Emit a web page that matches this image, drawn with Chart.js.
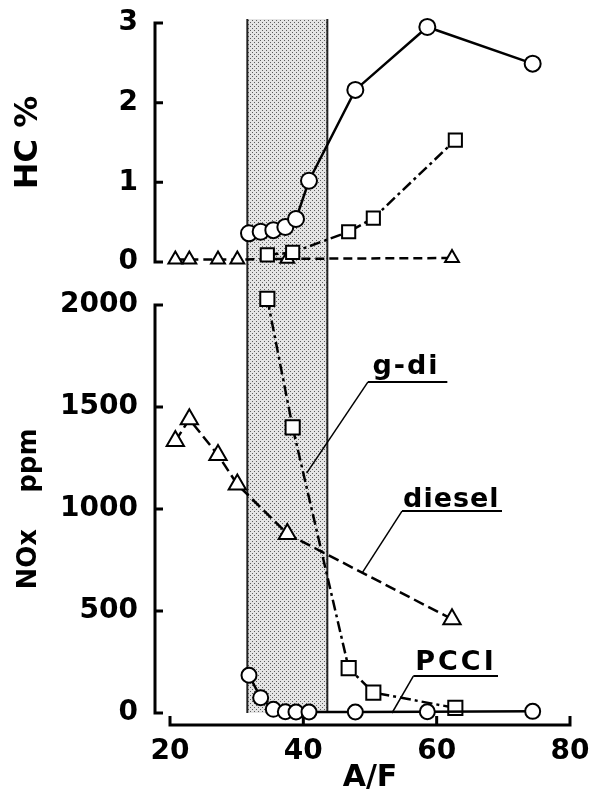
<!DOCTYPE html>
<html><head><meta charset="utf-8">
<script src="https://cdn.jsdelivr.net/npm/chart.js@4.4.0/dist/chart.umd.min.js"></script>
<style>
html,body{margin:0;padding:0;background:#fff;}
#wrap{position:relative;width:594px;height:796px;overflow:hidden;}
canvas{position:absolute;left:0;}
#top{top:0;} #bot{top:285px;}
</style></head><body>
<div id="wrap"><canvas id="top" width="594" height="285"></canvas><canvas id="bot" width="594" height="511"></canvas></div>
<script>
// ---- data ----
const afTicks = [20, 40, 60, 80];
const hcTicks = [0, 1, 2, 3];
const noxTicks = [0, 500, 1000, 1500, 2000];

const pcciAF  = [31.85, 33.6, 35.5, 37.3, 38.9, 40.85, 47.8, 58.6, 74.4];
const pcciHC  = [0.36, 0.38, 0.40, 0.44, 0.54, 1.02, 2.16, 2.95, 2.49];
const pcciNOx = [185, 75, 18, 6, 5, 5, 5, 6, 8];

const gdiAF  = [34.6, 38.4, 46.8, 50.5, 62.8];
const gdiHC  = [0.09, 0.12, 0.38, 0.55, 1.53];
const gdiNOx = [2030, 1400, 220, 100, 25];

const dieselAF  = [20.8, 22.9, 27.2, 30.1, 37.6, 62.3];
const dieselHC  = [0.03, 0.03, 0.03, 0.03, 0.04, 0.05];
const dieselNOx = [1333, 1440, 1265, 1120, 878, 460];

const bandAF = [31.6, 43.6];

const notes = [
  {text: 'g-di',   x: 55.4, y: 1662, under: [49.7, 61.6, 1623], leader: [49.7, 1623, 40.5, 1176]},
  {text: 'diesel', x: 62.2, y: 1010, under: [54.8, 69.8, 990],  leader: [54.8, 990, 48.9, 691]},
  {text: 'PCCI',   x: 62.9, y: 211,  under: [56.5, 69.2, 181],  leader: [56.5, 181, 53.3, 0]}
];

// ---- helpers ----
const FF = "'DejaVu Sans'";
Chart.defaults.font.family = FF;
Chart.defaults.color = '#000';
const pts = (xs, ys) => xs.map((x, i) => ({x, y: ys[i]}));

const patCanvas = (() => {
  const c = document.createElement('canvas'); c.width = 4; c.height = 4;
  const g = c.getContext('2d');
  g.fillStyle = '#e4e4e4'; g.fillRect(0, 0, 4, 4);
  g.fillStyle = '#5c5c5c'; g.fillRect(0, 0, 1, 1); g.fillRect(2, 2, 1, 1);
  return c;
})();

function bandPlugin(topFn, botFn) {
  return {
    id: 'band',
    beforeDatasetsDraw(chart) {
      const {ctx} = chart, xs = chart.scales.x;
      const x0 = xs.getPixelForValue(bandAF[0]), x1 = xs.getPixelForValue(bandAF[1]);
      const y0 = topFn(chart), y1 = botFn(chart);
      ctx.save();
      ctx.fillStyle = ctx.createPattern(patCanvas, 'repeat');
      ctx.fillRect(x0, y0, x1 - x0, y1 - y0);
      ctx.strokeStyle = '#222'; ctx.lineWidth = 2;
      ctx.beginPath();
      ctx.moveTo(x0, y0); ctx.lineTo(x0, y1);
      ctx.moveTo(x1, y0); ctx.lineTo(x1, y1);
      ctx.stroke();
      ctx.restore();
    }
  };
}

function axesPlugin(yTicks, withX) {
  return {
    id: 'axes',
    beforeDatasetsDraw(chart) {
      const {ctx} = chart, xs = chart.scales.x, ys = chart.scales.y;
      const ax = xs.getPixelForValue(afTicks[0]) - 15;
      const yTop = ys.getPixelForValue(yTicks[yTicks.length - 1]);
      const yBot = ys.getPixelForValue(yTicks[0]);
      ctx.save();
      ctx.strokeStyle = '#000'; ctx.lineWidth = 3; ctx.lineCap = 'butt';
      ctx.beginPath();
      ctx.moveTo(ax, yTop - 1.5); ctx.lineTo(ax, yBot + 1.5);
      yTicks.forEach(v => { const p = ys.getPixelForValue(v); ctx.moveTo(ax, p); ctx.lineTo(ax + 8, p); });
      ctx.stroke();
      if (withX) {
        const ay = yBot + 12;
        const xl = xs.getPixelForValue(afTicks[0]), xr = xs.getPixelForValue(afTicks[afTicks.length - 1]);
        ctx.beginPath();
        ctx.moveTo(xl - 1.5, ay); ctx.lineTo(xr + 1.5, ay);
        afTicks.forEach(v => { const p = xs.getPixelForValue(v); ctx.moveTo(p, ay); ctx.lineTo(p, ay - 9); });
        ctx.stroke();
      }
      ctx.restore();
    }
  };
}

const notesPlugin = {
  id: 'notes',
  afterDatasetsDraw(chart) {
    const {ctx} = chart, xs = chart.scales.x, ys = chart.scales.y;
    ctx.save();
    ctx.strokeStyle = '#000';
    notes.forEach(n => {
      ctx.lineWidth = 1.5;
      ctx.beginPath();
      ctx.moveTo(xs.getPixelForValue(n.leader[0]), ys.getPixelForValue(n.leader[1]));
      ctx.lineTo(xs.getPixelForValue(n.leader[2]), ys.getPixelForValue(n.leader[3]));
      ctx.stroke();
      ctx.lineWidth = 2;
      ctx.beginPath();
      ctx.moveTo(xs.getPixelForValue(n.under[0]), ys.getPixelForValue(n.under[2]));
      ctx.lineTo(xs.getPixelForValue(n.under[1]), ys.getPixelForValue(n.under[2]));
      ctx.stroke();
      ctx.fillStyle = '#000';
      ctx.font = 'bold 27px ' + FF;
      ctx.textAlign = 'center'; ctx.textBaseline = 'alphabetic';
      try { ctx.letterSpacing = n.text === 'diesel' ? '1px' : (n.text === 'PCCI' ? '3px' : '2px'); } catch (e) {}
      ctx.fillText(n.text, xs.getPixelForValue(n.x), ys.getPixelForValue(n.y));
    });
    ctx.restore();
  }
};

function lineSets(big, hc) {
  return [
    {label: 'PCCI', data: hc ? pts(pcciAF, pcciHC) : pts(pcciAF, pcciNOx), showLine: true,
     borderColor: '#000', borderWidth: 2.5, pointStyle: 'circle', pointRadius: big ? 7.5 : 8,
     pointBackgroundColor: '#fff', pointBorderColor: '#000', pointBorderWidth: 2, clip: false},
    {label: 'g-di', data: hc ? pts(gdiAF, gdiHC) : pts(gdiAF, gdiNOx), showLine: true,
     borderColor: '#000', borderWidth: 2.5, borderDash: [11, 4, 3, 4], pointStyle: 'rect', pointRadius: big ? 10 : 9.3,
     pointBackgroundColor: '#fff', pointBorderColor: '#000', pointBorderWidth: 2, clip: false},
    {label: 'diesel', data: hc ? pts(dieselAF, dieselHC) : pts(dieselAF, dieselNOx), showLine: true,
     borderColor: '#000', borderWidth: 2.5, borderDash: big ? [11, 5] : [9, 5], pointStyle: 'triangle', pointRadius: big ? 10 : 8,
     pointBackgroundColor: '#fff', pointBorderColor: '#000', pointBorderWidth: 2, clip: false}
  ];
}

const tickFont = {family: FF, size: 28, weight: 'bold'};
function fitY(s) { s.width = 170; s.paddingTop = 0; s.paddingBottom = 0; }

new Chart(document.getElementById('top'), {
  type: 'scatter',
  data: {datasets: lineSets(false, true)},
  options: {
    responsive: false, animation: false, events: [],
    layout: {padding: {top: 23, bottom: 23, left: 0, right: 24}},
    plugins: {legend: {display: false}, tooltip: {enabled: false}},
    scales: {
      x: {type: 'linear', min: afTicks[0], max: afTicks[afTicks.length - 1], display: false},
      y: {
        min: hcTicks[0], max: hcTicks[hcTicks.length - 1],
        afterFit: fitY,
        afterBuildTicks(s) { s.ticks = hcTicks.map(v => ({value: v})); },
        ticks: {padding: 32, color: '#000', font: tickFont, callback: v => String(v)},
        grid: {display: false, drawTicks: false}, border: {display: false},
        title: {display: true, text: 'HC %', color: '#000', font: {family: FF, size: 32, weight: 'bold'}, padding: {top: 9, bottom: 0}}
      }
    }
  },
  plugins: [bandPlugin(c => c.chartArea.top - 4, c => c.height), axesPlugin(hcTicks, false)]
});

new Chart(document.getElementById('bot'), {
  type: 'scatter',
  data: {datasets: lineSets(true, false)},
  options: {
    responsive: false, animation: false, events: [],
    layout: {padding: {top: 20, bottom: 0, left: 0, right: 24}},
    plugins: {legend: {display: false}, tooltip: {enabled: false}},
    scales: {
      x: {
        type: 'linear', min: afTicks[0], max: afTicks[afTicks.length - 1],
        afterFit(s) { s.height = 83; s.paddingLeft = 0; s.paddingRight = 0; },
        afterBuildTicks(s) { s.ticks = afTicks.map(v => ({value: v})); },
        ticks: {padding: 22, color: '#000', font: tickFont, maxRotation: 0, callback: v => String(v)},
        grid: {display: false, drawTicks: false}, border: {display: false},
        title: {display: true, text: 'A/F', color: '#000', font: {family: FF, size: 30, weight: 'bold'}, padding: {top: 0, bottom: 0}}
      },
      y: {
        min: noxTicks[0], max: noxTicks[noxTicks.length - 1],
        afterFit: fitY,
        afterBuildTicks(s) { s.ticks = noxTicks.map(v => ({value: v})); },
        ticks: {padding: 32, color: '#000', font: tickFont, callback: v => String(v)},
        grid: {display: false, drawTicks: false}, border: {display: false},
        title: {display: true, text: 'NOx    ppm', color: '#000', font: {family: FF, size: 26, weight: 'bold'}, padding: {top: 14, bottom: 0}}
      }
    }
  },
  plugins: [bandPlugin(c => 0, c => c.scales.y.getPixelForValue(0)), axesPlugin(noxTicks, true), notesPlugin]
});
</script>
</body></html>
